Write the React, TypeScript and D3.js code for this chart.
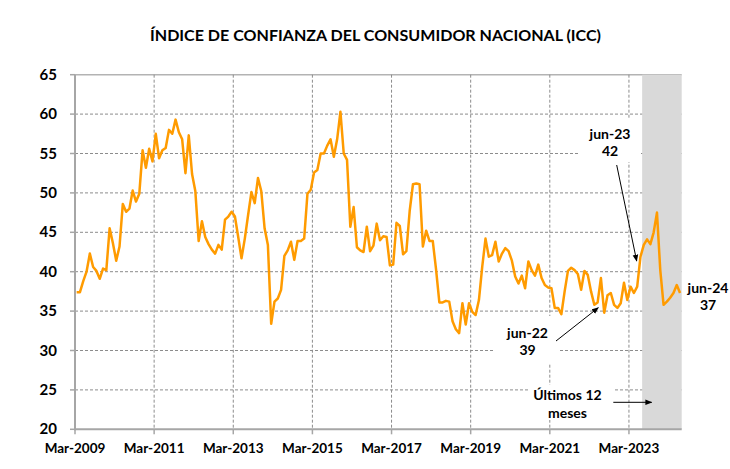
import React from "react";
import * as d3 from "d3";

// Monthly ICC values, Mar-2009 .. Jun-2024
const Y2009 = [37.4, 37.4, 38.8, 40.0, 42.3, 40.6, 40.1, 39.1, 40.4, 40.2]; // Mar-Dec
const Y2010 = [45.5, 43.6, 41.4, 43.2, 48.6, 47.6, 48.0, 50.3, 48.9, 49.9, 55.4, 53.2];
const Y2011 = [55.6, 54.0, 57.5, 54.4, 55.4, 55.7, 58.0, 57.5, 59.3, 57.7, 56.8, 52.5];
const Y2012 = [57.3, 52.4, 50.2, 43.9, 46.4, 44.4, 43.5, 42.8, 42.3, 43.4, 42.8, 46.6];
const Y2013 = [47.0, 47.6, 47.0, 44.4, 41.7, 44.2, 47.2, 50.1, 48.7, 51.9, 50.2, 45.5];
const Y2014 = [43.4, 33.4, 36.2, 36.6, 37.7, 42.0, 42.7, 43.8, 41.5, 43.9, 43.9, 44.2];
const Y2015 = [49.9, 50.4, 52.6, 52.9, 55.0, 55.0, 56.0, 56.8, 54.6, 56.8, 60.3, 55.0];
const Y2016 = [54.2, 45.7, 48.2, 43.1, 42.7, 42.5, 45.7, 42.6, 43.3, 46.1, 44.0, 44.5];
const Y2017 = [44.4, 40.8, 40.9, 46.2, 45.8, 42.2, 42.6, 47.7, 51.1, 51.2, 51.1, 43.2];
const Y2018 = [45.2, 43.9, 43.9, 40.3, 36.1, 36.1, 36.3, 36.2, 33.7, 32.7, 32.2, 36.0];
const Y2019 = [33.3, 36.0, 34.9, 34.5, 36.4, 40.6, 44.2, 41.9, 42.1, 43.8, 41.3, 42.3];
const Y2020 = [43.0, 42.6, 41.4, 39.4, 38.5, 39.5, 37.9, 41.3, 40.2, 39.5, 40.9, 39.2];
const Y2021 = [38.3, 38.0, 37.9, 35.4, 35.4, 34.6, 37.5, 40.1, 40.5, 40.2, 39.7, 37.7];
const Y2022 = [40.1, 39.6, 37.5, 35.8, 36.1, 39.2, 34.8, 37.0, 37.3, 35.8, 35.4, 36.0];
const Y2023 = [38.6, 36.4, 38.1, 37.3, 38.1, 41.9, 43.4, 44.1, 43.5, 45.0, 47.5, 40.2];
const Y2024 = [35.8, 36.2, 36.7, 37.3, 38.3, 37.3]; // Jan-Jun

const VALUES = [
  ...Y2009, ...Y2010, ...Y2011, ...Y2012, ...Y2013, ...Y2014, ...Y2015, ...Y2016,
  ...Y2017, ...Y2018, ...Y2019, ...Y2020, ...Y2021, ...Y2022, ...Y2023, ...Y2024,
];

const MONTHS = d3.timeMonth.range(new Date(2009, 2, 1), new Date(2024, 6, 1));

const X_TICK_LABELS = ["Mar-2009", "Mar-2011", "Mar-2013", "Mar-2015", "Mar-2017", "Mar-2019", "Mar-2021", "Mar-2023"];
const X_TICK_MONTHS = X_TICK_LABELS.map((s, k) => new Date(2009 + 2 * k, 2, 1));
const Y_TICKS = [20, 25, 30, 35, 40, 45, 50, 55, 60, 65];
const BAND_START = new Date(2023, 6, 1); // Jul-2023: últimos 12 meses

const TITLE = "ÍNDICE DE CONFIANZA DEL CONSUMIDOR NACIONAL (ICC)";

const L = 75, R = 681.7, T = 74.7, B = 429.3;
const FONT = "Lato, 'Open Sans', sans-serif";

export default function App() {
  const x = d3.scaleBand<number>()
    .domain(MONTHS.map((d) => +d))
    .range([L, R])
    .padding(0);
  const bw = x.bandwidth();
  const y = d3.scaleLinear().domain([20, 65]).range([B, T]);

  const line = d3.line<number>()
    .x((_, i) => (x(+MONTHS[i]) as number) + bw / 2)
    .y((v) => y(v));

  const bandX = x(+BAND_START) as number;

  return (
    <svg width={730} height={469} style={{ position: "absolute", left: 0, top: 0, background: "#fff" }} fontFamily={FONT}>
      <defs>
        <marker id="ah" viewBox="0 0 10 10" refX="9" refY="5" markerWidth="7" markerHeight="7" orient="auto-start-reverse">
          <path d="M0,1 L10,5 L0,9 z" fill="#000" />
        </marker>
      </defs>
      <rect x={0} y={0} width={730} height={469} fill="#fff" />
      <text x={375.5} y={41} textAnchor="middle" fontSize={16} fontWeight="bold" fill="#000" textLength={451} lengthAdjust="spacingAndGlyphs">
        {TITLE}
      </text>

      {/* horizontal grid */}
      {Y_TICKS.filter((t) => t > 20 && t < 65).map((t) => (
        <line key={"h" + t} x1={L} x2={R} y1={y(t)} y2={y(t)} stroke="#8c8c8c" strokeWidth={1} strokeDasharray="3,2" />
      ))}
      <line x1={L} x2={R} y1={y(65)} y2={y(65)} stroke="#b3b3b3" strokeWidth={1.5} />
      {/* vertical grid */}
      {X_TICK_MONTHS.slice(1).map((m, k) => (
        <line key={"v" + k} x1={x(+m)} x2={x(+m)} y1={T} y2={B} stroke="#8c8c8c" strokeWidth={1} strokeDasharray="3,2" />
      ))}

      {/* last 12 months band */}
      <rect x={bandX} y={T} width={R - bandX} height={B - T} fill="#d9d9d9" />

      {/* white annotation boxes */}
      <rect x={580} y={118} width={61} height={44} fill="#fff" />
      <rect x={493} y={316} width={65} height={47} fill="#fff" />
      <rect x={530} y={385} width={83} height={35} fill="#fff" />

      {/* axes */}
      <line x1={L} x2={L} y1={T} y2={B + 1} stroke="#a6a6a6" strokeWidth={2} />
      <line x1={L - 1} x2={R} y1={B} y2={B} stroke="#a6a6a6" strokeWidth={2} />
      {Y_TICKS.map((t) => (
        <g key={"yt" + t}>
          <line x1={L - 5} x2={L} y1={y(t)} y2={y(t)} stroke="#a6a6a6" strokeWidth={1.5} />
          <text x={57} y={y(t) + 5} textAnchor="end" fontSize={15} fontWeight="bold" fill="#000">{t}</text>
        </g>
      ))}
      {X_TICK_MONTHS.map((m, k) => (
        <g key={"xt" + k}>
          <line x1={x(+m)} x2={x(+m)} y1={B} y2={B + 5} stroke="#a6a6a6" strokeWidth={1.5} />
          <text x={x(+m)} y={453} textAnchor="middle" fontSize={13.5} fontWeight="bold" fill="#000">{X_TICK_LABELS[k]}</text>
        </g>
      ))}

      {/* series */}
      <path d={line(VALUES) || ""} fill="none" stroke="#ff9b00" strokeWidth={2.5} strokeLinejoin="round" />

      {/* annotations */}
      <g fontSize={14} fontWeight="bold" fill="#000" textAnchor="middle">
        <text x={610} y={139}>jun-23</text>
        <text x={610} y={156}>42</text>
        <text x={527.5} y={338}>jun-22</text>
        <text x={527.5} y={355}>39</text>
        <text x={708} y={293}>jun-24</text>
        <text x={708} y={310}>37</text>
        <text x={567.5} y={400}>Últimos 12</text>
        <text x={567.5} y={418}>meses</text>
      </g>
      <line x1={616.7} y1={165} x2={636.7} y2={261} stroke="#000" strokeWidth={1} markerEnd="url(#ah)" />
      <line x1={556} y1={341} x2={598.3} y2={307.7} stroke="#000" strokeWidth={1} markerEnd="url(#ah)" />
      <line x1={613.3} y1={402.3} x2={651.7} y2={402.3} stroke="#000" strokeWidth={1} markerEnd="url(#ah)" />
    </svg>
  );
}
